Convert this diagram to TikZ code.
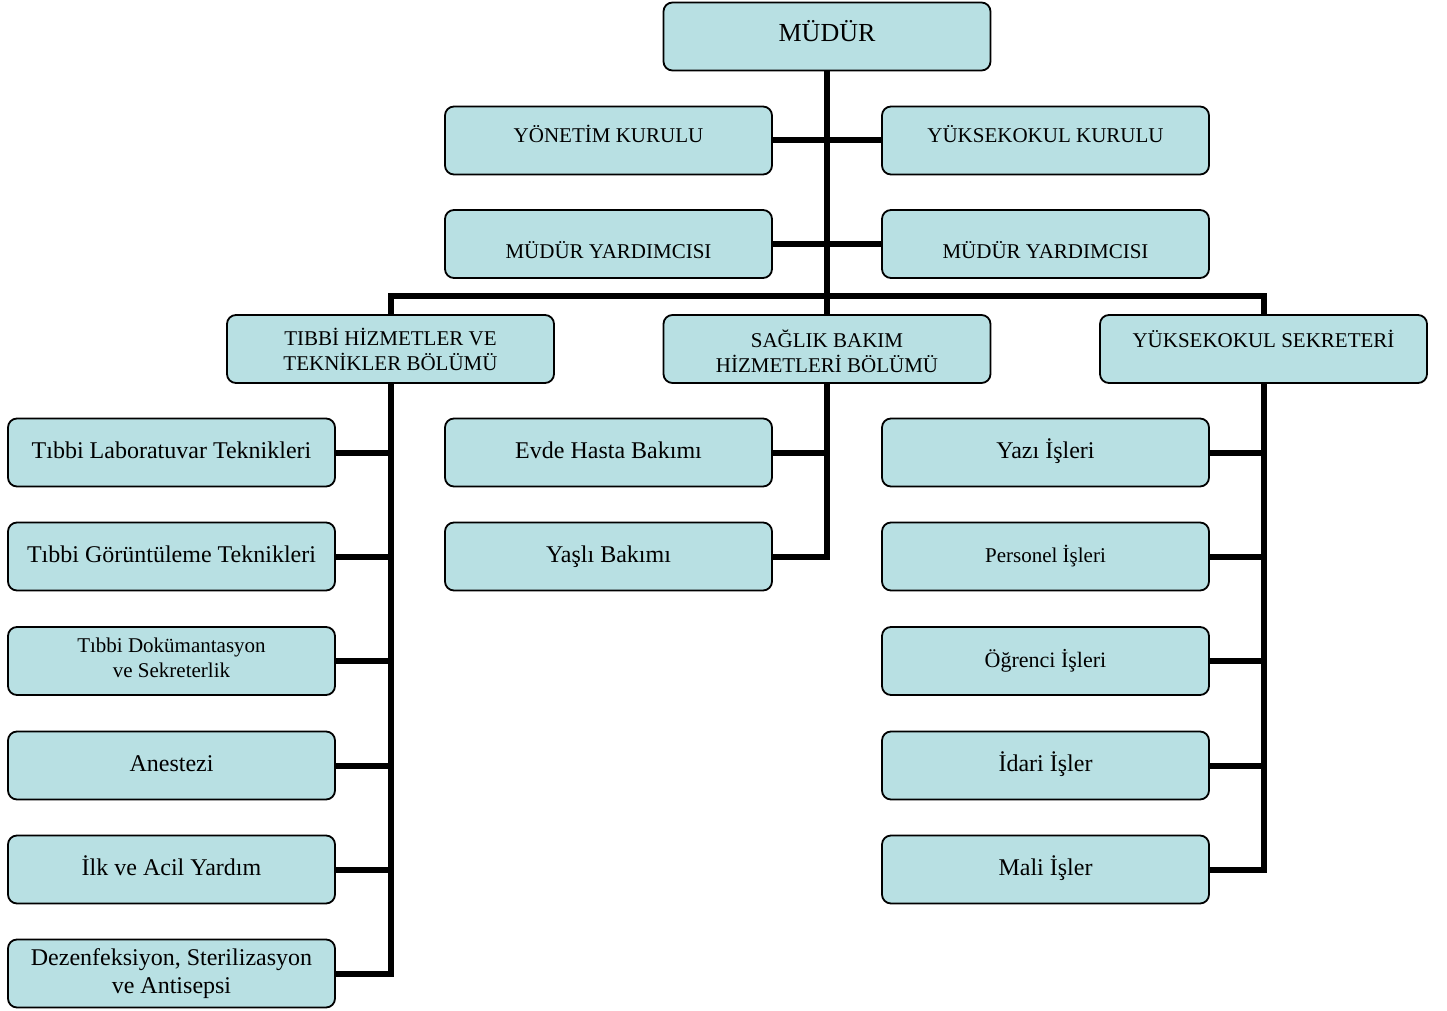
\documentclass[tikz,border=0pt]{standalone}
\usepackage{fontspec}
\setmainfont{Liberation Serif}
\definecolor{boxfill}{RGB}{184,224,227}
\newcommand{\bigsz}{\fontsize{26}{30}\selectfont}
\newcommand{\capsz}{\fontsize{21}{25}\selectfont}
\newcommand{\txtsz}{\fontsize{24}{28}\selectfont}
\newcommand{\smallsz}{\fontsize{21}{25}\selectfont}
\begin{document}
\begin{tikzpicture}[
				x=1pt, y=-1pt,
				unitbox/.style={rectangle, draw, line width=1.8pt, fill=boxfill, rounded corners=9pt, minimum width=327pt, minimum height=68pt, inner sep=0pt, align=center, font=\txtsz, text height=17pt, text depth=5pt},
				twoline/.style={text height=, text depth=},
				capbox/.style={unitbox, font=\capsz},
				link/.style={line width=6pt}
				]
				\useasboundingbox (0,0) rectangle (1447,1011);
				
				% top of the chart
				\node[unitbox, font=\bigsz, text height=11pt, text depth=0pt] (mudur) at (827,36.5) {MÜDÜR};
				\node[capbox, text height=12pt, text depth=8pt] (ykurul) at (608.5,140.5) {YÖNETİM KURULU};
				\node[capbox, text height=12pt, text depth=8pt] (okurul) at (1045.5,140.5) {YÜKSEKOKUL KURULU};
				\node[capbox, text height=28pt, text depth=0pt] (yard1) at (608.5,244) {MÜDÜR YARDIMCISI};
				\node[capbox, text height=28pt, text depth=0pt] (yard2) at (1045.5,244) {MÜDÜR YARDIMCISI};
				
				\node[capbox, twoline] (tibbi) at (390.5,349) {TIBBİ HİZMETLER VE\\TEKNİKLER BÖLÜMÜ};
				\node[capbox, text height=47pt, text depth=0pt] (saglik) at (827,349) {SAĞLIK BAKIM\\HİZMETLERİ BÖLÜMÜ};
				\node[capbox, text height=8pt, text depth=12pt] (sekr) at (1263.5,349) {YÜKSEKOKUL SEKRETERİ};
				\coordinate (bar) at (827,296);
				
				% left column
				\node[unitbox] (l1) at (171.5,452.5) {Tıbbi Laboratuvar Teknikleri};
				\node[unitbox] (l2) at (171.5,556.5) {Tıbbi Görüntüleme Teknikleri};
				\node[unitbox, font=\smallsz, text height=33pt, text depth=0pt] (l3) at (171.5,661) {Tıbbi Dokümantasyon\\ve Sekreterlik};
				\node[unitbox] (l4) at (171.5,765.5) {Anestezi};
				\node[unitbox] (l5) at (171.5,869.5) {İlk ve Acil Yardım};
				\node[unitbox, twoline] (l6) at (171.5,973.5) {Dezenfeksiyon, Sterilizasyon\\ve Antisepsi};
				
				% middle column
				\node[unitbox] (m1) at (608.5,452.5) {Evde Hasta Bakımı};
				\node[unitbox] (m2) at (608.5,556.5) {Yaşlı Bakımı};
				
				% right column
				\node[unitbox] (r1) at (1045.5,452.5) {Yazı İşleri};
				\node[unitbox, font=\smallsz] (r2) at (1045.5,556.5) {Personel İşleri};
				\node[unitbox, font=\fontsize{22}{26}\selectfont] (r3) at (1045.5,661) {Öğrenci İşleri};
				\node[unitbox] (r4) at (1045.5,765.5) {İdari İşler};
				\node[unitbox] (r5) at (1045.5,869.5) {Mali İşler};
				
				% connectors
				\draw[link] (mudur.south) -- (saglik.north);
				\draw[link] (ykurul.east) -- (okurul.west);
				\draw[link] (yard1.east) -- (yard2.west);
				\draw[link] (tibbi.north) |- (bar) -| (sekr.north);
				
				\draw[link] (tibbi.south) |- (l6.east);
				\foreach \i in {1,...,5}
					\draw[link] (l\i.east) -- (l\i.east -| tibbi.south);
				
				\draw[link] (saglik.south) |- (m2.east);
				\draw[link] (m1.east) -- (m1.east -| saglik.south);
				
				\draw[link] (sekr.south) |- (r5.east);
				\foreach \i in {1,...,4}
					\draw[link] (r\i.east) -- (r\i.east -| sekr.south);
				
\end{tikzpicture}
\end{document}
